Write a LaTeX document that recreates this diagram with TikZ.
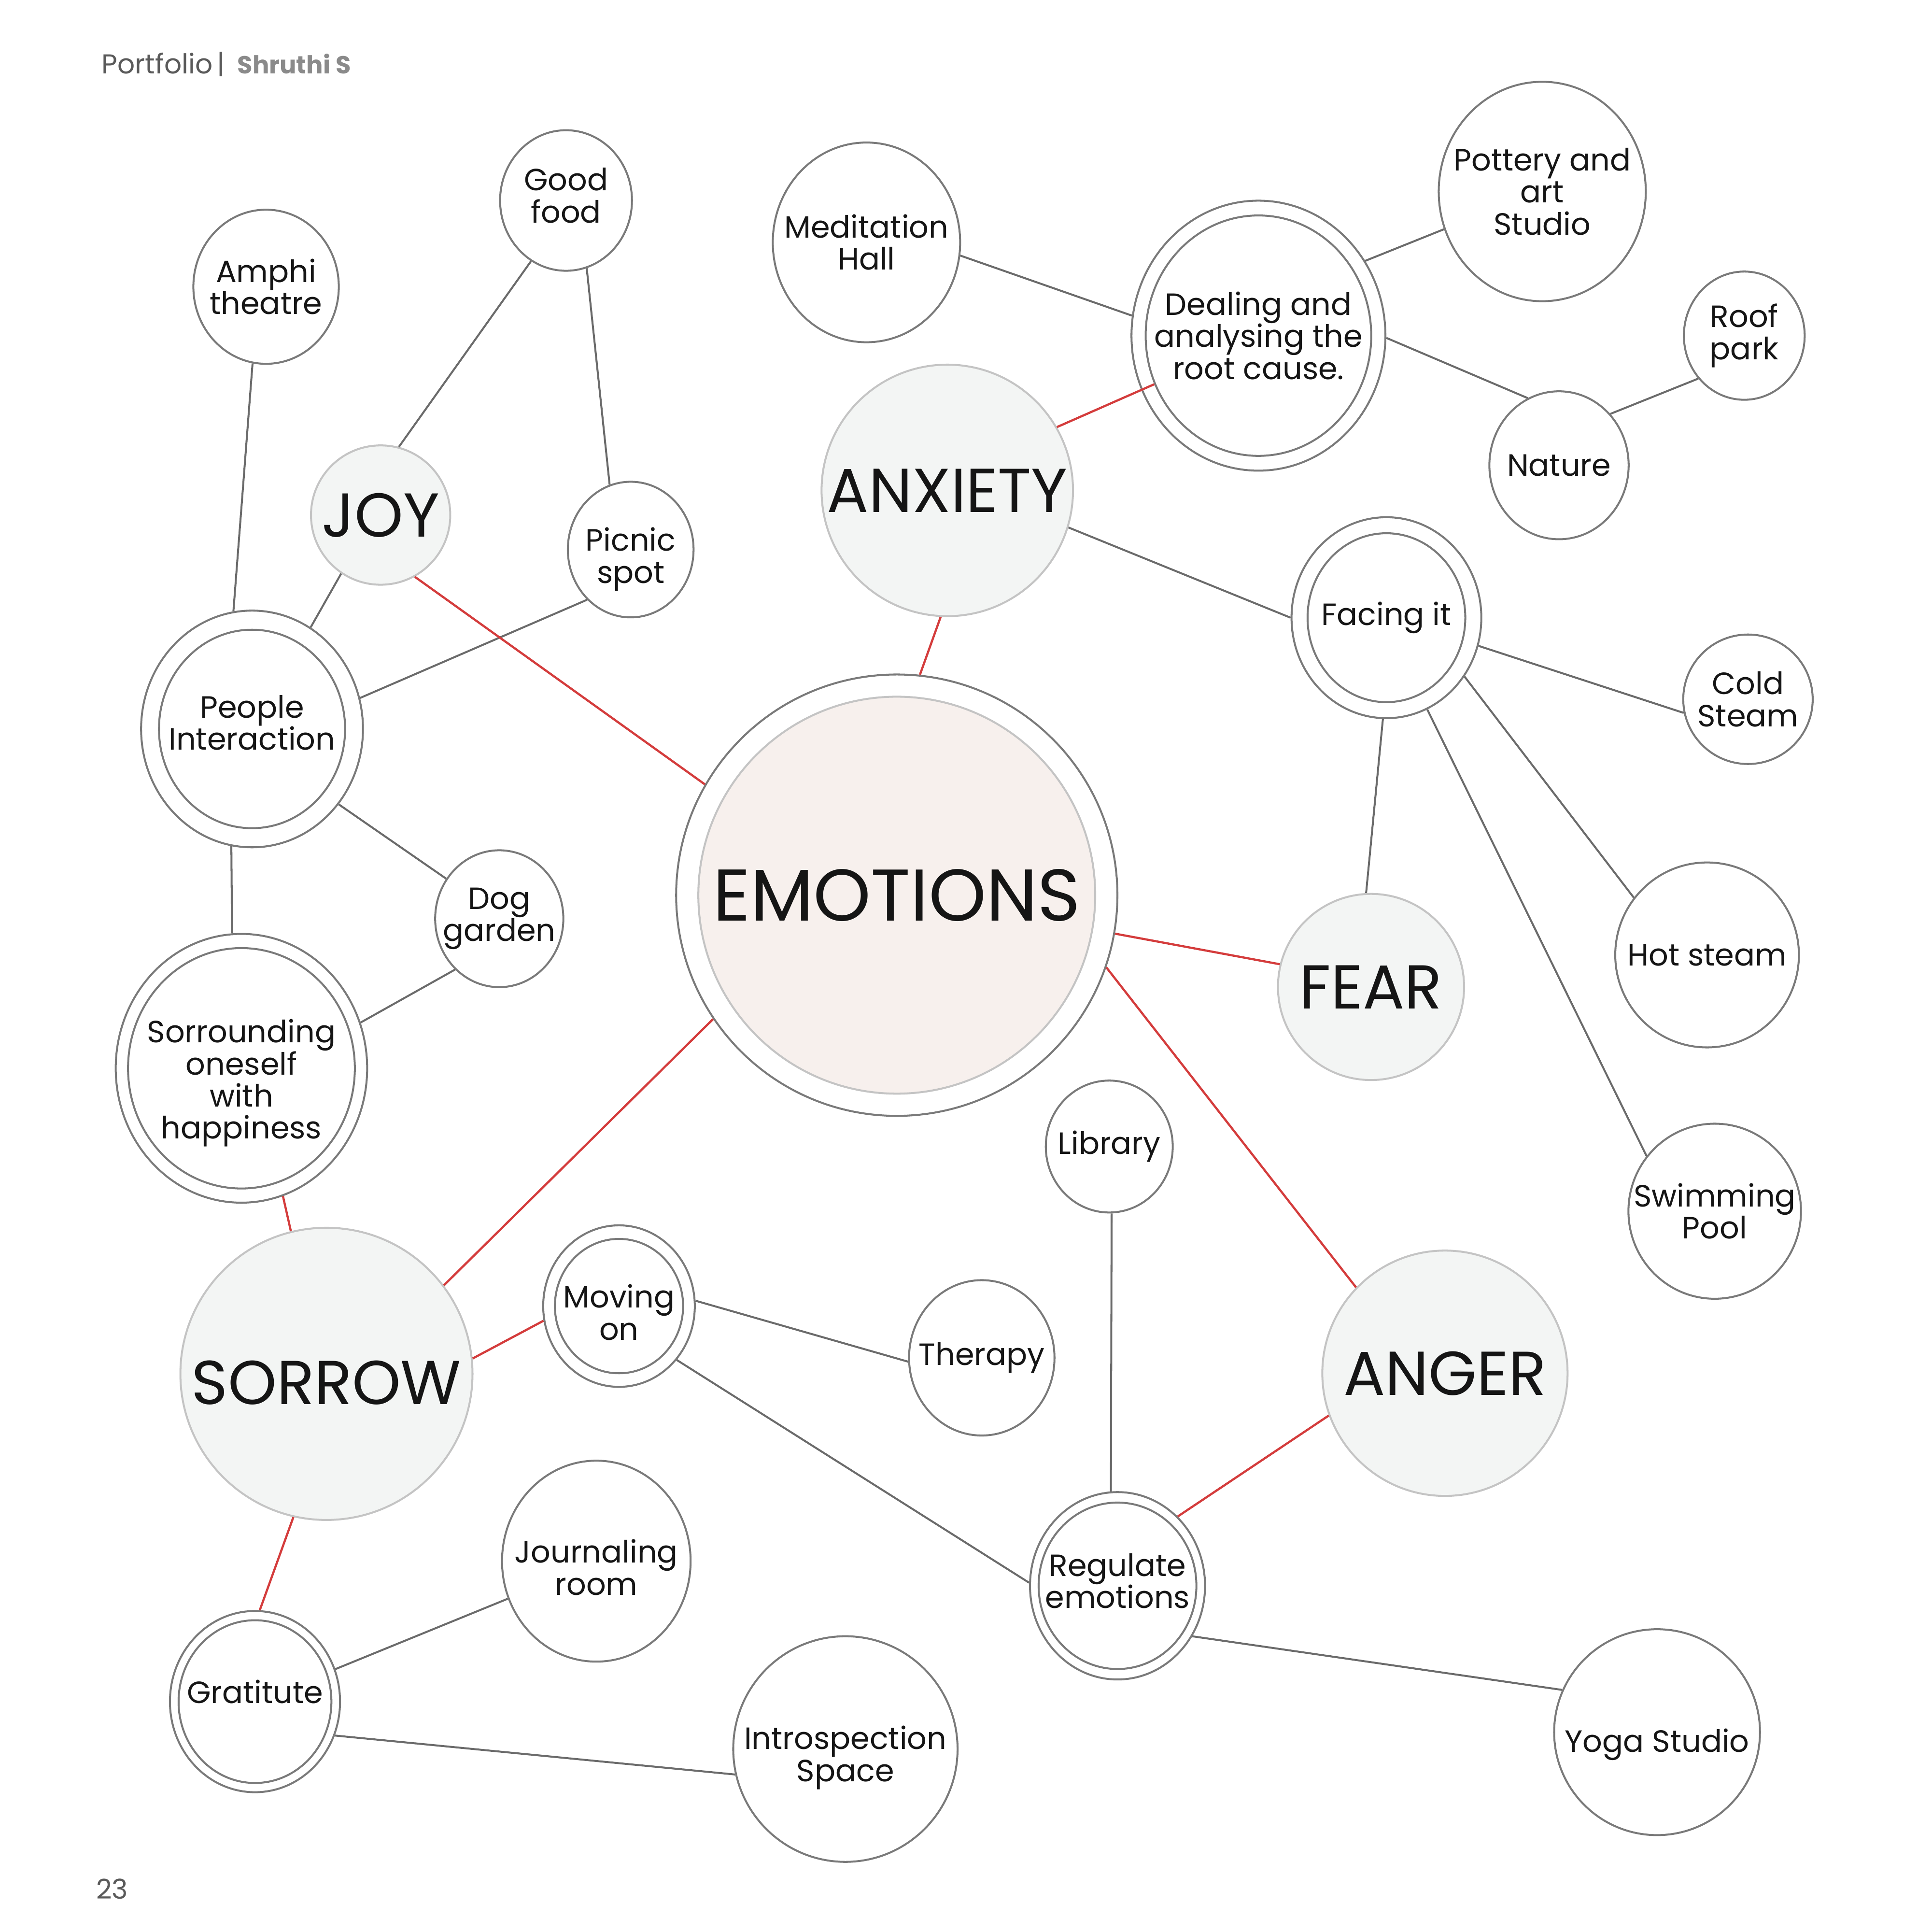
\documentclass[tikz,border=0pt]{standalone}
\usepackage{fontspec}
\setmainfont{Poppins}
\usetikzlibrary{shapes.geometric}
\lineskiplimit=-10pt
\definecolor{rimgray}{HTML}{7A7A7A}
\definecolor{linkgray}{HTML}{6B6B6B}
\definecolor{linkred}{HTML}{D43C3C}
\definecolor{moodrim}{HTML}{C4C4C4}
\definecolor{moodfill}{HTML}{F3F5F4}
\definecolor{corefill}{HTML}{F7F0ED}
\definecolor{ink}{HTML}{151515}
\definecolor{headgray}{HTML}{5A5A5A}
\definecolor{headlight}{HTML}{8A8A8A}

\begin{document}
\begin{tikzpicture}[
    x=0.01cm, y=-0.01cm,
    every label/.style={align=center, text=ink, inner sep=0pt, font=\fontsize{7.1}{7.4}\selectfont},
    spot/.style 2 args={ellipse, draw=rimgray, fill=white, line width=0.45pt, minimum width=#1cm, minimum height=#2cm, inner sep=0pt},
    mood/.style={circle, draw=moodrim, fill=moodfill, line width=0.45pt, minimum size=#1cm, inner sep=0pt},
    big/.style={font=\fontsize{14.3}{14.3}\selectfont},
    ln/.style={draw=linkgray, line width=0.45pt},
    lr/.style={draw=linkred, line width=0.5pt}
  ]
  \useasboundingbox[fill=white] (0,0) rectangle (1568,1568);

  \node[anchor=west, inner sep=0pt, font=\fontsize{6.3}{7}\selectfont] (head) at (82,52) {\textcolor{headgray}{Portfolio\,|}\hspace{0.1cm}\textcolor{headlight}{\fontsize{5.7}{7}\selectfont\bfseries Shruthi S}};
  \node[font=\fontsize{6.3}{7}\selectfont, text=headgray] (pageno) at (91,1533) {23};

  % emotions
  \node[circle, draw=rimgray, fill=white, line width=0.45pt, minimum size=3.58cm] (emo) at (728,726.5) {};
  \node[mood=3.22, fill=corefill, label={[font=\fontsize{16.9}{16.9}\selectfont]center:EMOTIONS}] (emoin) at (728,726.5) {};
  \node[mood=2.04, label={[big]center:ANXIETY}] (anx) at (769,398) {};
  \node[mood=1.13, label={[big]center:JOY}] (joy) at (309,418) {};
  \node[mood=1.51, label={[big]center:FEAR}] (fear) at (1113,801) {};
  \node[mood=1.99, label={[big]center:ANGER}] (anger) at (1173,1114.5) {};
  \node[mood=2.37, label={[big, yshift=-0.07cm]center:SORROW}] (sorrow) at (265,1115) {};

  % places
  \node[spot={1.07}{1.14}, label={[yshift=0.04cm]center:Good\\food}] (food) at (459.5,162.7) {};
  \node[spot={1.18}{1.25}, label={center:Amphi\\theatre}] (amphi) at (216,232.7) {};
  \node[spot={1.02}{1.10}, label={[yshift=-0.08cm]center:Picnic\\spot}] (picnic) at (512,446) {};
  \node[spot={1.52}{1.62}, label={center:Meditation\\Hall}] (medit) at (703.4,196.7) {};
  \node[spot={1.68}{1.78}, label={center:Pottery and\\art\\Studio}] (pottery) at (1252,155.4) {};
  \node[spot={0.98}{1.04}, label={center:Roof\\park}] (roof) at (1416,272.4) {};
  \node[spot={1.13}{1.20}, label={center:Nature}] (nature) at (1265.6,377.6) {};
  \node[spot={1.05}{1.05}, label={center:Cold\\Steam}] (cold) at (1419,567.5) {};
  \node[spot={1.04}{1.11}, label={center:Dog\\garden}] (dog) at (405.3,745.6) {};
  \node[spot={1.49}{1.50}, label={center:Hot steam}] (hot) at (1385.8,775) {};
  \node[spot={1.03}{1.07}, label={center:Library}] (library) at (900.5,930.5) {};
  \node[spot={1.40}{1.42}, label={center:Swimming\\Pool}] (swim) at (1392,983) {};
  \node[spot={1.18}{1.26}, label={center:Therapy}] (therapy) at (797,1102) {};
  \node[spot={1.53}{1.63}, label={[yshift=-0.05cm]center:Journaling\\room}] (journal) at (484.1,1267) {};
  \node[spot={1.82}{1.83}, label={[yshift=-0.07cm]center:Introspection\\Space}] (intro) at (686.3,1419.5) {};
  \node[spot={1.67}{1.67}, label={[yshift=-0.1cm]center:Yoga Studio}] (yoga) at (1345.2,1405.8) {};

  % double rings
  \node[spot={2.06}{2.19}] (deal) at (1021.6,272.4) {};
  \node[spot={1.83}{1.95}, label={center:Dealing and\\analysing the\\root cause.}] (dealin) at (1021.6,272.4) {};
  \node[spot={1.54}{1.63}] (facing) at (1125.5,501.3) {};
  \node[spot={1.28}{1.37}, label={center:Facing it}] (facingin) at (1125.5,501.3) {};
  \node[spot={1.80}{1.92}] (people) at (204.6,591.6) {};
  \node[spot={1.51}{1.61}, label={[yshift=0.05cm]center:People\\Interaction}] (peoplein) at (204.6,591.6) {};
  \node[spot={2.04}{2.18}] (sorr) at (196,867) {};
  \node[spot={1.84}{1.95}, label={[yshift=-0.12cm]center:Sorrounding\\oneself\\with\\happiness}] (sorrin) at (196,867) {};
  \node[spot={1.23}{1.31}] (moving) at (502.5,1060) {};
  \node[spot={1.04}{1.09}, label={[yshift=-0.05cm]center:Moving\\on}] (movingin) at (502.5,1060) {};
  \node[spot={1.42}{1.52}] (regulate) at (907.2,1287) {};
  \node[spot={1.28}{1.35}, label={[yshift=0.04cm]center:Regulate\\emotions}] (regulatein) at (907.2,1287) {};
  \node[spot={1.38}{1.47}] (grat) at (207,1381) {};
  \node[spot={1.24}{1.32}, label={[yshift=0.08cm]center:Gratitute}] (gratin) at (207,1381) {};

  % grey links
  \draw[ln] (food.-120) -- (joy.75);
  \draw[ln] (food.-73) -- (picnic.108);
  \draw[ln] (amphi.-100) -- (people.99);
  \draw[ln] (joy.-124) -- (people.60);
  \draw[ln] (picnic.-131) -- (people.16);
  \draw[ln] (people.-41) -- (dog.143);
  \draw[ln] (people.-100) -- (sorr.94);
  \draw[ln] (dog.-131) -- (sorr.21);
  \draw[ln] (medit.-8) -- (deal.171);
  \draw[ln] (deal.35) -- (pottery.-159);
  \draw[ln] (deal.-1) -- (nature.115);
  \draw[ln] (nature.45) -- (roof.-137);
  \draw[ln] (anx.-17) -- (facing.180);
  \draw[ln] (facing.-17) -- (cold.-168);
  \draw[ln] (facing.-37) -- (hot.142);
  \draw[ln] (facing.-66) -- (swim.141);
  \draw[ln] (facing.-92) -- (fear.93);
  \draw[ln] (library.-88) -- (regulate.94);
  \draw[ln] (regulate.-34) -- (yoga.156);
  \draw[ln] (moving.-43) -- (regulate.178);
  \draw[ln] (moving.4) -- (therapy.-177);
  \draw[ln] (grat.22) -- (journal.-157);
  \draw[ln] (grat.-23) -- (intro.-167);

  % red links
  \draw[lr] (emo.84) -- (anx.-93);
  \draw[lr] (emo.150) -- (joy.-61);
  \draw[lr] (emo.-10) -- (fear.166);
  \draw[lr] (emo.-146) -- (sorrow.37);
  \draw[lr] (emo.-19) -- (anger.136);
  \draw[lr] (anx.30) -- (dealin.-155);
  \draw[lr] (anger.-160) -- (regulate.49);
  \draw[lr] (sorrow.104) -- (sorr.-72);
  \draw[lr] (sorrow.6) -- (moving.-169);
  \draw[lr] (sorrow.-103) -- (grat.87);
\end{tikzpicture}
\end{document}
